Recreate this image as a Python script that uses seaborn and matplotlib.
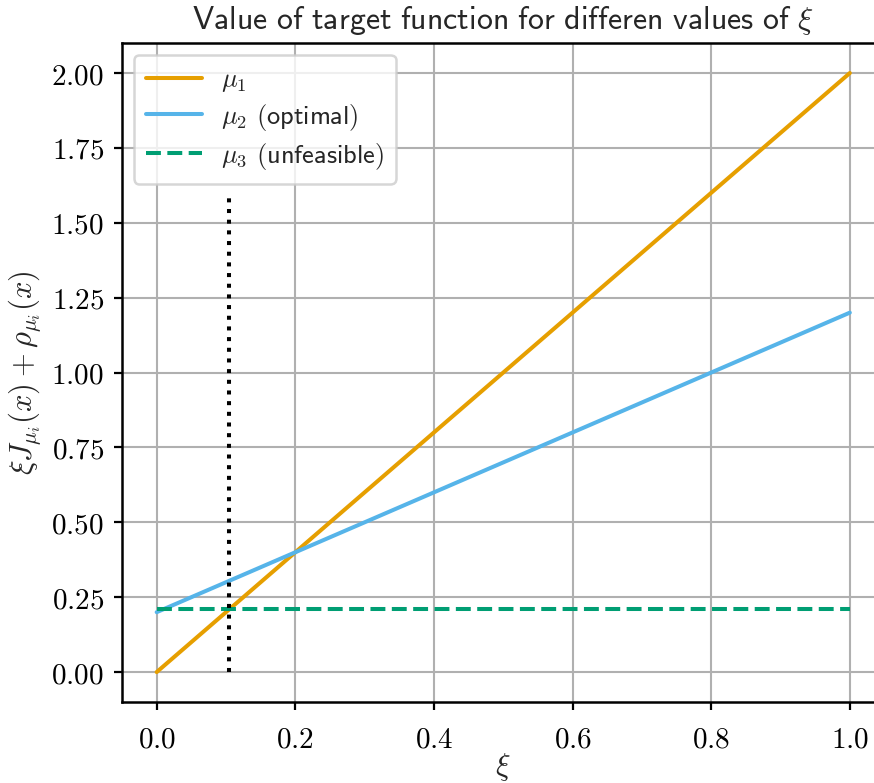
import matplotlib
matplotlib.use("Agg")
import matplotlib.pyplot as plt
from matplotlib.ticker import FuncFormatter, MultipleLocator
import seaborn as sns
import pandas as pd

# Endpoints of the linear target functions over xi
xi = [0.0, 1.0]
mu1 = [0.0, 2.0]
mu2 = [0.2, 1.2]
mu3 = [0.21, 0.21]
labels = [r"$\mu_1$", r"$\mu_2$ $\mathsf{(optimal)}$", r"$\mu_3$ $\mathsf{(unfeasible)}$"]
colors = ["#E69F00", "#56B4E9", "#009E73"]
styles = ["-", "-", "--"]

# Switch point between the policies
xi_switch = 0.105
switch_top = 1.6

sns.set_style("whitegrid")
plt.rcParams.update({
    "mathtext.fontset": "cm",
    "font.family": ["DejaVu Sans"],
    "axes.edgecolor": "black",
    "grid.color": "#b0b0b0",
    "grid.linewidth": 1.5,
    "xtick.bottom": True,
    "ytick.left": True,
    "xtick.color": "black",
    "ytick.color": "black",
})

fig = plt.figure(figsize=(8.74, 7.83), dpi=100)
ax = fig.add_axes([0.1396, 0.1034, 0.8724, 0.8416])

series = [mu1, mu2, mu3]
for vals, lab, col, ls in zip(series, labels, colors, styles):
    df = pd.DataFrame({"xi": xi, "val": vals})
    sns.lineplot(data=df, x="xi", y="val", ax=ax, color=col, linestyle=ls,
                 linewidth=2.9, label=lab, zorder=3)

ax.vlines(xi_switch, 0, switch_top, colors="black", linestyles=":", linewidth=2.9, zorder=3)

ax.set_xlim(-0.05, 1.05)
ax.set_ylim(-0.1, 2.1)
ax.xaxis.set_major_locator(MultipleLocator(0.2))
ax.yaxis.set_major_locator(MultipleLocator(0.25))
ax.xaxis.set_major_formatter(FuncFormatter(lambda v, p: f"${v:.1f}$"))
ax.yaxis.set_major_formatter(FuncFormatter(lambda v, p: f"${v:.2f}$"))
ax.tick_params(axis="both", labelsize=21, length=6, width=1.6, direction="out")
ax.tick_params(axis="x", pad=11)
ax.tick_params(axis="y", pad=7)
for s in ax.spines.values():
    s.set_linewidth(1.8)
    s.set_color("black")
ax.spines["right"].set_visible(False)

ax.set_xlabel(r"$\xi$", fontsize=22, labelpad=-2)
ax.set_ylabel(r"$\xi J_{\mu_i}(x) + \rho_{\mu_i}(x)$", fontsize=22, labelpad=6)
ax.set_title(r"$\mathsf{Value\ of\ target\ function\ for\ differen\ values\ of\ }\xi$",
             fontsize=23, pad=10)

leg = ax.legend(loc="upper left", fontsize=19, frameon=True, fancybox=True,
                handlelength=2.15, borderpad=0.45, labelspacing=0.3,
                handletextpad=0.7, borderaxespad=0.45)
leg.get_frame().set_edgecolor("#cccccc")
leg.get_frame().set_linewidth(1.8)
leg.set_zorder(5)

fig.savefig("out.png", dpi=100)
